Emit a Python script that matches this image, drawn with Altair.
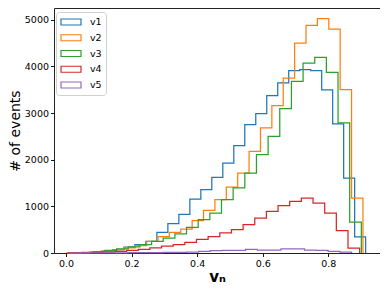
import numpy as np
import pandas as pd
import altair as alt

series_names = ["v1", "v2", "v3", "v4", "v5"]
series_colors = ["#1f77b4", "#ff7f0e", "#2ca02c", "#d62728", "#9467bd"]

# bin ranges (data min, data max) per series
v1_range = [0.0091, 0.9138]
v2_range = [0.0027, 0.9056]
v3_range = [0.0122, 0.9007]
v4_range = [0.0070, 0.8955]
v5_range = [0.0091, 0.8711]

v1_counts = [3, 8, 20, 40, 75, 128, 178, 250, 443, 628, 830, 1157, 1357, 1620,
             1928, 2300, 2750, 2986, 3372, 3643, 3906, 3927, 3906, 3493, 2765, 1607, 343]
v2_counts = [2, 8, 20, 40, 70, 110, 160, 250, 350, 443, 514, 692, 914, 1143,
             1414, 1714, 2178, 2679, 3157, 3750, 4500, 4877, 5020, 4800, 3500, 1178]
v3_counts = [4, 12, 30, 55, 90, 130, 178, 250, 321, 410, 550, 714, 857, 1143,
             1393, 1714, 2107, 2500, 3093, 3678, 4071, 4193, 3871, 2786, 664]
v4_counts = [2, 5, 10, 20, 35, 55, 80, 110, 150, 180, 228, 290, 350, 430,
             500, 607, 750, 893, 1014, 1107, 1178, 1071, 857, 478, 107]
v5_counts = [0, 1, 1, 2, 4, 6, 8, 10, 12, 14, 20, 36, 50, 57, 57, 78, 64, 64,
             86, 86, 64, 57, 36, 20]

x_ticks = [0.0, 0.2, 0.4, 0.6, 0.8]
y_ticks = [0, 1000, 2000, 3000, 4000, 5000]

rows = []
for name, rng, counts in zip(series_names,
                             [v1_range, v2_range, v3_range, v4_range, v5_range],
                             [v1_counts, v2_counts, v3_counts, v4_counts, v5_counts]):
    edges = np.linspace(rng[0], rng[1], len(counts) + 1)
    rows.append({"series": name, "x": edges[0], "y": 0, "o": 0})
    for i, c in enumerate(counts):
        rows.append({"series": name, "x": edges[i], "y": c, "o": i + 1})
    rows.append({"series": name, "x": edges[-1], "y": 0, "o": len(counts) + 1})
df = pd.DataFrame(rows)

legend = alt.Legend(
    title=None, orient="none", legendX=2, legendY=4,
    symbolType="M-1,-0.6H3V0.6H-1Z", symbolSize=100, symbolStrokeWidth=1.2,
    symbolFillColor="transparent", labelOffset=18, labelFontSize=9.5,
    labelColor="#000", rowPadding=3.75, padding=4,
    strokeColor="#d0d0d0", fillColor="#ffffff", cornerRadius=3,
)

chart = alt.Chart(df).mark_line(interpolate="step-after", strokeWidth=1.25).encode(
    x=alt.X("x:Q", scale=alt.Scale(domain=[-0.0366, 0.9576], nice=False, zero=False),
            axis=alt.Axis(values=x_ticks, format=".1f", title="vₙ",
                          titleFontSize=15, titleFontWeight="bold",
                          titleY=23, titleBaseline="middle")),
    y=alt.Y("y:Q", scale=alt.Scale(domain=[0, 5250], nice=False),
            axis=alt.Axis(values=y_ticks, format="d", title="# of events",
                          titleFontSize=14, titleFontWeight="normal",
                          titleX=-39, titleBaseline="middle")),
    color=alt.Color("series:N", scale=alt.Scale(domain=series_names, range=series_colors),
                    legend=legend),
    order="o:Q",
    detail="series:N",
).properties(
    width=326, height=245,
    autosize=alt.AutoSizeParams(type="none"),
    padding={"left": 46, "top": 0, "right": 0, "bottom": 36},
).configure(
    font="DejaVu Sans",
).configure_view(
    stroke="#222", strokeWidth=1,
).configure_axis(
    grid=False, domain=False, ticks=True, tickSize=3.5, tickColor="#000",
    tickWidth=0.9, labelColor="#000", labelFontSize=9.5, labelPadding=2,
    titleColor="#000",
)

chart.save("out.html", embed_options={"renderer": "svg", "actions": False})
